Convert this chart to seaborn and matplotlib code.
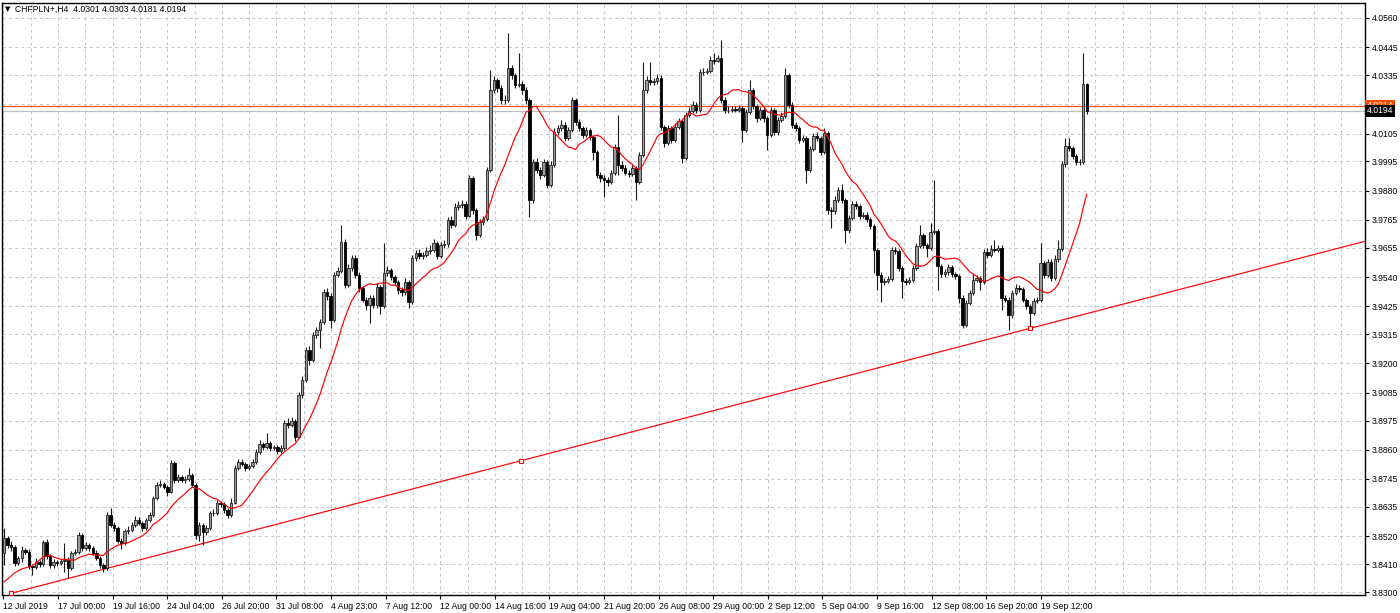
import numpy as np
import pandas as pd
import matplotlib
matplotlib.use("Agg")
import matplotlib.pyplot as plt
import seaborn as sns
from matplotlib.transforms import blended_transform_factory

# ---------------- data (CHFPLN+, H4) ----------------
symbol_title = "CHFPLN+,H4  4.0301 4.0303 4.0181 4.0194"

open_ = [
3.8454,3.8513,3.8485,3.8477,3.8414,3.8434,3.8466,3.8458,3.8403,3.8399,
3.8418,3.8411,3.8497,3.8442,3.8407,3.8418,3.8414,3.8422,3.8426,3.8395,
3.8454,3.8458,3.8525,3.8474,3.8485,3.8474,3.8454,3.8434,3.8407,3.8395,
3.8603,3.8564,3.8552,3.8501,3.8493,3.8540,3.8544,3.8564,3.8584,3.8572,
3.8552,3.8584,3.8603,3.8670,3.8722,3.8725,3.8714,3.8694,3.8808,3.8741,
3.8753,3.8741,3.8745,3.8761,3.8722,3.8525,3.8564,3.8537,3.8552,3.8611,
3.8611,3.8651,3.8647,3.8623,3.8603,3.8651,3.8788,3.8812,3.8804,3.8788,
3.8796,3.8812,3.8851,3.8883,3.8871,3.8887,3.8867,3.8871,3.8855,3.8867,
3.8966,3.8958,3.8974,3.8911,3.9076,3.9135,3.9253,3.9214,3.9312,3.9332,
3.9363,3.9481,3.9466,3.9371,3.9548,3.9564,3.9678,3.9509,3.9576,3.9615,
3.9548,3.9497,3.9450,3.9430,3.9458,3.9430,3.9501,3.9426,3.9556,3.9568,
3.9540,3.9521,3.9489,3.9481,3.9521,3.9442,3.9615,3.9635,3.9623,3.9627,
3.9643,3.9647,3.9674,3.9623,3.9666,3.9670,3.9765,3.9745,3.9816,3.9824,
3.9828,3.9781,3.9930,3.9804,3.9706,3.9757,3.9769,3.9962,4.0277,4.0316,
4.0285,4.0237,4.0237,4.0363,4.0336,4.0296,4.0300,4.0277,4.0237,3.9844,
3.9993,3.9962,3.9942,3.9993,3.9903,3.9981,4.0111,4.0127,4.0139,4.0088,
4.0119,4.0237,4.0151,4.0127,4.0100,4.0119,4.0092,4.0033,3.9942,3.9930,
3.9922,3.9914,3.9950,4.0052,3.9981,3.9970,3.9950,3.9946,3.9970,3.9914,
4.0021,4.0277,4.0316,4.0308,4.0312,4.0324,4.0131,4.0068,4.0127,4.0080,
4.0131,4.0155,4.0009,4.0178,4.0194,4.0218,4.0198,4.0348,4.0348,4.0351,
4.0395,4.0391,4.0403,4.0237,4.0198,4.0198,4.0202,4.0198,4.0206,4.0119,
4.0190,4.0277,4.0214,4.0166,4.0198,4.0166,4.0100,4.0198,4.0111,4.0159,
4.0174,4.0336,4.0218,4.0139,4.0127,4.0080,4.0088,3.9962,4.0044,4.0096,
4.0088,4.0033,4.0107,3.9804,3.9800,3.9844,3.9883,3.9844,3.9725,3.9773,
3.9828,3.9820,3.9781,3.9785,3.9769,3.9741,3.9647,3.9548,3.9521,3.9525,
3.9533,3.9647,3.9643,3.9576,3.9525,3.9521,3.9529,3.9576,3.9662,3.9706,
3.9666,3.9655,3.9718,3.9722,3.9584,3.9552,3.9560,3.9580,3.9552,3.9544,
3.9458,3.9351,3.9438,3.9477,3.9529,3.9537,3.9521,3.9639,3.9627,3.9651,
3.9647,3.9655,3.9458,3.9450,3.9391,3.9477,3.9497,3.9493,3.9450,3.9426,
3.9399,3.9446,3.9450,3.9596,3.9548,3.9600,3.9537,3.9611,3.9651,3.9985,
4.0056,4.0048,4.0017,3.9993,3.9993,4.0301]

high = [
3.8552,3.8521,3.8500,3.8487,3.8440,3.8480,3.8475,3.8469,3.8410,3.8433,
3.8426,3.8505,3.8509,3.8450,3.8430,3.8428,3.8431,3.8493,3.8436,3.8462,
3.8470,3.8536,3.8533,3.8497,3.8492,3.8482,3.8465,3.8441,3.8414,3.8615,
3.8630,3.8575,3.8560,3.8512,3.8550,3.8560,3.8575,3.8598,3.8595,3.8581,
3.8592,3.8615,3.8680,3.8735,3.8740,3.8733,3.8722,3.8818,3.8815,3.8765,
3.8760,3.8758,3.8788,3.8770,3.8730,3.8575,3.8572,3.8563,3.8620,3.8625,
3.8662,3.8660,3.8655,3.8630,3.8670,3.8800,3.8825,3.8822,3.8812,3.8806,
3.8823,3.8862,3.8898,3.8890,3.8926,3.8895,3.8880,3.8879,3.8877,3.8978,
3.8985,3.8990,3.8982,3.9088,3.9150,3.9265,3.9270,3.9325,3.9345,3.9375,
3.9493,3.9495,3.9478,3.9560,3.9580,3.9745,3.9690,3.9590,3.9628,3.9625,
3.9560,3.9505,3.9462,3.9470,3.9468,3.9515,3.9510,3.9674,3.9585,3.9576,
3.9550,3.9530,3.9500,3.9535,3.9530,3.9625,3.9648,3.9650,3.9640,3.9660,
3.9665,3.9690,3.9682,3.9680,3.9685,3.9778,3.9780,3.9830,3.9840,3.9845,
3.9838,3.9942,3.9938,3.9812,3.9770,3.9782,3.9975,4.0355,4.0330,4.0325,
4.0295,4.0255,4.0501,4.0375,4.0345,4.0422,4.0310,4.0290,4.0245,4.0005,
4.0010,3.9975,4.0005,4.0002,3.9995,4.0125,4.0140,4.0160,4.0150,4.0132,
4.0249,4.0245,4.0162,4.0135,4.0130,4.0128,4.0100,4.0040,3.9952,3.9940,
3.9932,3.9962,4.0065,4.0178,3.9995,3.9980,3.9960,3.9982,3.9978,4.0032,
4.0387,4.0330,4.0387,4.0325,4.0338,4.0336,4.0140,4.0140,4.0135,4.0145,
4.0168,4.0162,4.0190,4.0208,4.0232,4.0230,4.0360,4.0365,4.0365,4.0410,
4.0422,4.0415,4.0474,4.0248,4.0212,4.0214,4.0212,4.0218,4.0215,4.0202,
4.0316,4.0285,4.0222,4.0210,4.0208,4.0175,4.0210,4.0205,4.0170,4.0188,
4.0363,4.0345,4.0228,4.0150,4.0135,4.0100,4.0095,4.0055,4.0108,4.0110,
4.0095,4.0127,4.0115,3.9815,3.9858,3.9895,3.9905,3.9852,3.9785,3.9840,
3.9840,3.9828,3.9798,3.9795,3.9778,3.9750,3.9655,3.9560,3.9538,3.9545,
3.9660,3.9658,3.9652,3.9585,3.9535,3.9540,3.9588,3.9675,3.9745,3.9715,
3.9675,3.9753,3.9922,3.9730,3.9592,3.9572,3.9592,3.9588,3.9560,3.9552,
3.9468,3.9450,3.9490,3.9556,3.9550,3.9545,3.9650,3.9655,3.9665,3.9686,
3.9668,3.9665,3.9470,3.9460,3.9490,3.9512,3.9508,3.9500,3.9458,3.9432,
3.9458,3.9462,3.9674,3.9605,3.9612,3.9610,3.9625,3.9686,3.9998,4.0088,
4.0088,4.0055,4.0025,4.0005,4.0422,4.0303]

low = [
3.8407,3.8475,3.8463,3.8402,3.8405,3.8418,3.8450,3.8391,3.8367,3.8390,
3.8398,3.8404,3.8430,3.8396,3.8393,3.8402,3.8405,3.8379,3.8355,3.8386,
3.8444,3.8450,3.8462,3.8466,3.8460,3.8444,3.8425,3.8396,3.8379,3.8388,
3.8555,3.8540,3.8492,3.8470,3.8485,3.8530,3.8536,3.8555,3.8562,3.8540,
3.8545,3.8575,3.8596,3.8662,3.8712,3.8705,3.8680,3.8688,3.8730,3.8733,
3.8732,3.8730,3.8738,3.8712,3.8510,3.8500,3.8485,3.8525,3.8545,3.8600,
3.8603,3.8635,3.8610,3.8590,3.8596,3.8645,3.8780,3.8795,3.8775,3.8780,
3.8788,3.8805,3.8845,3.8860,3.8862,3.8855,3.8858,3.8842,3.8846,3.8860,
3.8945,3.8950,3.8895,3.8905,3.9065,3.9128,3.9195,3.9205,3.9300,3.9261,
3.9355,3.9450,3.9340,3.9365,3.9540,3.9555,3.9495,3.9500,3.9565,3.9535,
3.9480,3.9440,3.9410,3.9359,3.9418,3.9420,3.9395,3.9418,3.9545,3.9530,
3.9508,3.9475,3.9465,3.9470,3.9420,3.9435,3.9605,3.9610,3.9612,3.9618,
3.9630,3.9640,3.9610,3.9615,3.9655,3.9660,3.9735,3.9738,3.9805,3.9812,
3.9770,3.9775,3.9790,3.9686,3.9698,3.9745,3.9760,3.9955,4.0265,4.0270,
4.0222,4.0220,4.0230,4.0320,4.0285,4.0288,4.0262,4.0222,3.9777,3.9830,
3.9950,3.9928,3.9935,3.9890,3.9895,3.9975,4.0100,4.0115,4.0075,4.0080,
4.0110,4.0140,4.0115,4.0088,4.0090,4.0080,4.0001,3.9930,3.9915,3.9855,
3.9900,3.9905,3.9940,3.9942,3.9958,3.9940,3.9935,3.9938,3.9844,3.9905,
4.0012,4.0265,4.0295,4.0298,4.0300,4.0120,4.0052,4.0060,4.0068,4.0072,
4.0122,3.9989,4.0000,4.0170,4.0185,4.0185,4.0190,4.0335,4.0338,4.0342,
4.0380,4.0385,4.0225,4.0185,4.0186,4.0190,4.0188,4.0190,4.0072,4.0110,
4.0182,4.0200,4.0150,4.0158,4.0152,4.0041,4.0092,4.0098,4.0100,4.0150,
4.0165,4.0205,4.0125,4.0115,4.0068,4.0070,3.9911,3.9955,4.0035,4.0075,
4.0020,4.0025,3.9790,3.9733,3.9790,3.9835,3.9832,3.9674,3.9715,3.9765,
3.9808,3.9770,3.9772,3.9758,3.9730,3.9556,3.9489,3.9442,3.9510,3.9515,
3.9525,3.9630,3.9565,3.9458,3.9510,3.9512,3.9520,3.9568,3.9655,3.9655,
3.9619,3.9648,3.9710,3.9489,3.9540,3.9542,3.9550,3.9540,3.9532,3.9438,
3.9340,3.9345,3.9430,3.9470,3.9520,3.9489,3.9512,3.9615,3.9618,3.9638,
3.9638,3.9410,3.9440,3.9332,3.9380,3.9468,3.9482,3.9440,3.9415,3.9344,
3.9390,3.9438,3.9442,3.9535,3.9540,3.9525,3.9528,3.9600,3.9642,3.9975,
4.0035,4.0005,3.9982,3.9980,3.9985,4.0181]

close = [
3.8513,3.8485,3.8477,3.8414,3.8434,3.8466,3.8458,3.8403,3.8399,3.8418,
3.8411,3.8497,3.8442,3.8407,3.8418,3.8414,3.8422,3.8426,3.8395,3.8454,
3.8458,3.8525,3.8474,3.8485,3.8474,3.8454,3.8434,3.8407,3.8395,3.8603,
3.8564,3.8552,3.8501,3.8493,3.8540,3.8544,3.8564,3.8584,3.8572,3.8552,
3.8584,3.8603,3.8670,3.8722,3.8725,3.8714,3.8694,3.8808,3.8741,3.8753,
3.8741,3.8745,3.8761,3.8722,3.8525,3.8564,3.8537,3.8552,3.8611,3.8611,
3.8651,3.8647,3.8623,3.8603,3.8651,3.8788,3.8812,3.8804,3.8788,3.8796,
3.8812,3.8851,3.8883,3.8871,3.8887,3.8867,3.8871,3.8855,3.8867,3.8966,
3.8958,3.8974,3.8911,3.9076,3.9135,3.9253,3.9214,3.9312,3.9332,3.9363,
3.9481,3.9466,3.9371,3.9548,3.9564,3.9678,3.9509,3.9576,3.9615,3.9548,
3.9497,3.9450,3.9430,3.9458,3.9430,3.9501,3.9426,3.9556,3.9568,3.9540,
3.9521,3.9489,3.9481,3.9521,3.9442,3.9615,3.9635,3.9623,3.9627,3.9643,
3.9647,3.9674,3.9623,3.9666,3.9670,3.9765,3.9745,3.9816,3.9824,3.9828,
3.9781,3.9930,3.9804,3.9706,3.9757,3.9769,3.9962,4.0277,4.0316,4.0285,
4.0237,4.0237,4.0363,4.0336,4.0296,4.0300,4.0277,4.0237,3.9844,3.9993,
3.9962,3.9942,3.9993,3.9903,3.9981,4.0111,4.0127,4.0139,4.0088,4.0119,
4.0237,4.0151,4.0127,4.0100,4.0119,4.0092,4.0033,3.9942,3.9930,3.9922,
3.9914,3.9950,4.0052,3.9981,3.9970,3.9950,3.9946,3.9970,3.9914,4.0021,
4.0277,4.0316,4.0308,4.0312,4.0324,4.0131,4.0068,4.0127,4.0080,4.0131,
4.0155,4.0009,4.0178,4.0194,4.0218,4.0198,4.0348,4.0348,4.0351,4.0395,
4.0391,4.0403,4.0237,4.0198,4.0198,4.0202,4.0198,4.0206,4.0119,4.0190,
4.0277,4.0214,4.0166,4.0198,4.0166,4.0100,4.0198,4.0111,4.0159,4.0174,
4.0336,4.0218,4.0139,4.0127,4.0080,4.0088,3.9962,4.0044,4.0096,4.0088,
4.0033,4.0107,3.9804,3.9800,3.9844,3.9883,3.9844,3.9725,3.9773,3.9828,
3.9820,3.9781,3.9785,3.9769,3.9741,3.9647,3.9548,3.9521,3.9525,3.9533,
3.9647,3.9643,3.9576,3.9525,3.9521,3.9529,3.9576,3.9662,3.9706,3.9666,
3.9655,3.9718,3.9722,3.9584,3.9552,3.9560,3.9580,3.9552,3.9544,3.9458,
3.9351,3.9438,3.9477,3.9529,3.9537,3.9521,3.9639,3.9627,3.9651,3.9647,
3.9655,3.9458,3.9450,3.9391,3.9477,3.9497,3.9493,3.9450,3.9426,3.9399,
3.9446,3.9450,3.9596,3.9548,3.9600,3.9537,3.9611,3.9651,3.9985,4.0056,
4.0048,4.0017,3.9993,3.9993,4.0301,4.0194]

# moving average (14): first values (warm-up before visible bars)
ma_period = 14
ma_head = [3.8340, 3.8351, 3.8363, 3.8375, 3.8383, 3.8391, 3.8395,
           3.8399, 3.8403, 3.8414, 3.8426, 3.8438, 3.8442]

# trend line anchors (bar index, price)
trend_bars = [2, 289]
trend_prices = [3.8295, 3.9338]

ask_price = 4.0214
bid_price = 4.0194

price_labels = ["3.8300", "3.8410", "3.8520", "3.8635", "3.8745", "3.8860",
                "3.8975", "3.9085", "3.9200", "3.9315", "3.9425", "3.9540",
                "3.9655", "3.9765", "3.9880", "3.9995", "4.0105", "4.0335",
                "4.0445", "4.0560"]
hidden_grid_price = 4.0221

time_labels = ["12 Jul 2019", "17 Jul 00:00", "19 Jul 16:00", "24 Jul 04:00",
               "26 Jul 20:00", "31 Jul 08:00", "4 Aug 23:00", "7 Aug 12:00",
               "12 Aug 00:00", "14 Aug 16:00", "19 Aug 04:00", "21 Aug 20:00",
               "26 Aug 08:00", "29 Aug 00:00", "2 Sep 12:00", "5 Sep 04:00",
               "9 Sep 16:00", "12 Sep 08:00", "16 Sep 20:00", "19 Sep 12:00"]

# ---------------- layout constants ----------------
W, H = 1400, 613
AX_L, AX_R, AX_T, AX_B = 2, 1365, 3, 595        # plot frame in pixels
BAR_PX, X0_PX = 3.55, 4.0                        # candle spacing / first candle pixel
GRID_PX, GRID0_PX = 27.3, 3.4                    # vertical grid spacing
N_VGRID = 50
LABEL_EVERY = 2
Y_TOP, Y_BOT = 4.0619, 3.82883

sns.set_theme(style="white")
plt.rcParams['font.family'] = ['Liberation Sans', 'DejaVu Sans']

n = len(close)
df = pd.DataFrame({"bar": np.arange(n), "open": open_, "high": high,
                   "low": low, "close": close})
ma = df["close"].rolling(ma_period).mean()
ma.iloc[:len(ma_head)] = ma_head
df["ma"] = ma

fig = plt.figure(figsize=(W / 100, H / 100), dpi=100)
fig.patch.set_facecolor("white")
ax = fig.add_axes([AX_L / W, 1 - AX_B / H, (AX_R - AX_L) / W, (AX_B - AX_T) / H])
ax.set_facecolor("white")

def px_to_bar(px):
    return (px - X0_PX) / BAR_PX

xmin, xmax = px_to_bar(AX_L), px_to_bar(AX_R)
ax.set_xlim(xmin, xmax)
ax.set_ylim(Y_BOT, Y_TOP)

# grid (dashed, MT4 style)
grid_kw = dict(color="#c8c8c8", linewidth=0.75, linestyle=(0, (3, 3)), zorder=0)
vgrid = [px_to_bar(GRID0_PX + GRID_PX * k) for k in range(N_VGRID)]
for xg in vgrid:
    ax.axvline(xg, **grid_kw)
price_vals = [float(p) for p in price_labels]
for yg in price_vals + [hidden_grid_price]:
    ax.axhline(yg, **grid_kw)

# trend line
slope = (trend_prices[1] - trend_prices[0]) / (trend_bars[1] - trend_bars[0])
tl = pd.DataFrame({"bar": [trend_bars[0], xmax]})
tl["price"] = trend_prices[0] + slope * (tl["bar"] - trend_bars[0])
sns.lineplot(data=tl, x="bar", y="price", ax=ax, color="#ff0000",
             linewidth=0.85, zorder=3, legend=False)
mid_bar = (trend_bars[0] + trend_bars[1]) / 2
ax.plot([trend_bars[0], mid_bar, trend_bars[1]],
        [trend_prices[0], trend_prices[0] + slope * (mid_bar - trend_bars[0]), trend_prices[1]],
        linestyle="none", marker="s", markersize=3.2, markerfacecolor="white",
        markeredgecolor="#ff0000", markeredgewidth=0.8, zorder=6)

# ask / bid lines
ax.axhline(ask_price, color="#ff4a00", linewidth=0.85, zorder=2)
ax.axhline(bid_price, color="#bdbdbd", linewidth=0.85, zorder=2)

# candles
o = df["open"].to_numpy(); c = df["close"].to_numpy()
hi = df["high"].to_numpy(); lo = df["low"].to_numpy()
x = df["bar"].to_numpy()
ax.vlines(x, lo, hi, color="#1a1a1a", linewidth=0.8, zorder=4)
up = c >= o
ax.bar(x[up], c[up] - o[up], bottom=o[up], width=0.68, color="#9a9a9a",
       edgecolor="#202020", linewidth=0.6, zorder=5)
ax.bar(x[~up], o[~up] - c[~up], bottom=c[~up], width=0.68, color="black",
       edgecolor="black", linewidth=0.6, zorder=5)

# moving average
sns.lineplot(data=df, x="bar", y="ma", ax=ax, color="#ff0000", linewidth=0.85,
             zorder=6, legend=False)

# axes / ticks
ax.set_xlabel(""); ax.set_ylabel("")
ax.yaxis.tick_right()
ax.set_yticks(price_vals)
ax.set_yticklabels(price_labels)
ax.tick_params(axis="y", which="both", right=True, left=False, length=3,
               width=0.8, pad=2, labelsize=6.2, colors="black", direction="out")
ax.set_xticks(vgrid[::LABEL_EVERY][:len(time_labels)])
ax.set_xticklabels(time_labels, ha="left")
ax.tick_params(axis="x", which="both", bottom=True, length=3, width=0.8,
               pad=2, labelsize=6.2, colors="black", direction="out")
for s in ax.spines.values():
    s.set_color("black")
    s.set_linewidth(1.0)
    s.set_visible(True)

# price boxes on right scale
trans = blended_transform_factory(ax.transAxes, ax.transData)
xoff = 1.0 + 2.0 / (AX_R - AX_L)
ax.text(xoff, ask_price, f"{ask_price:.4f}", transform=trans, fontsize=6.2,
        color="white", va="center", ha="left", zorder=10,
        bbox=dict(boxstyle="square,pad=0.18", fc="#ff4a00", ec="none"))
ax.text(xoff, bid_price, f"{bid_price:.4f}", transform=trans, fontsize=6.2,
        color="white", va="center", ha="left", zorder=11,
        bbox=dict(boxstyle="square,pad=0.18", fc="black", ec="none"))

# title
fig.text(5 / W, 1 - 9 / H, "\u25bc", fontsize=5, color="black", va="center", ha="left",
         family=["DejaVu Sans"])
fig.text(15 / W, 1 - 9 / H, symbol_title, fontsize=6.2, color="black",
         va="center", ha="left")

fig.savefig("out.png", dpi=100, facecolor="white")
